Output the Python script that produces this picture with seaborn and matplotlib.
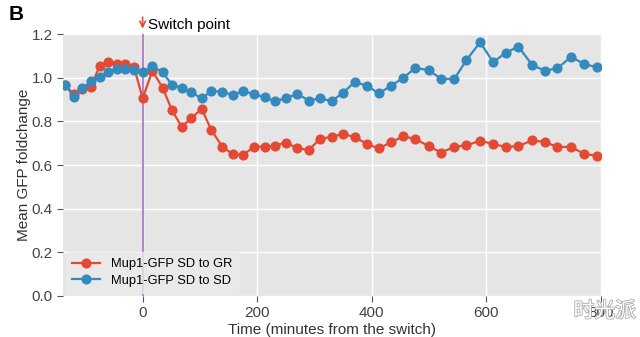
import matplotlib
matplotlib.use("Agg")
import matplotlib.pyplot as plt
import matplotlib.patheffects as pe
import seaborn as sns
import pandas as pd

# ---- data ----
time_min = [-135, -120, -105, -90, -75, -60, -45, -30, -15, 0,
            17, 35, 51, 68, 85, 103, 120, 139, 157, 175, 194, 213, 231, 250, 270, 290, 309,
            330, 350, 370, 392, 412, 434, 455, 476, 499, 521, 544, 565, 589, 612, 634, 656,
            680, 702, 724, 748, 771, 793]

sd_to_gr = [0.965, 0.925, 0.950, 0.958, 1.055, 1.070, 1.062, 1.061, 1.050, 0.905,
            1.031, 0.954, 0.852, 0.776, 0.814, 0.858, 0.760, 0.684, 0.650, 0.644, 0.684, 0.684,
            0.689, 0.703, 0.677, 0.669, 0.718,
            0.730, 0.742, 0.728, 0.696, 0.676, 0.705, 0.731, 0.719, 0.687, 0.657, 0.683, 0.690,
            0.711, 0.696, 0.683, 0.687, 0.713, 0.705, 0.683, 0.683, 0.650, 0.643]

sd_to_sd = [0.967, 0.913, 0.951, 0.986, 1.005, 1.025, 1.042, 1.042, 1.034, 1.026,
            1.054, 1.025, 0.968, 0.954, 0.934, 0.905, 0.939, 0.936, 0.921, 0.939, 0.925, 0.910,
            0.893, 0.905, 0.927, 0.895, 0.905,
            0.893, 0.931, 0.980, 0.963, 0.928, 0.963, 1.000, 1.044, 1.035, 0.995, 0.994, 1.080,
            1.162, 1.071, 1.115, 1.142, 1.058, 1.032, 1.043, 1.096, 1.061, 1.049]

series_names = ["Mup1-GFP SD to GR", "Mup1-GFP SD to SD"]
series_colors = ["#E24A33", "#348ABD"]
x_ticks = [0, 200, 400, 600, 800]
y_ticks = [0.0, 0.2, 0.4, 0.6, 0.8, 1.0, 1.2]

df = pd.DataFrame({
    "time": time_min * 2,
    "value": sd_to_gr + sd_to_sd,
    "series": [series_names[0]] * len(time_min) + [series_names[1]] * len(time_min),
})

plt.rcParams["font.family"] = ["Liberation Sans", "DejaVu Sans"]

fig = plt.figure(figsize=(6.4, 3.37), dpi=100)
ax = fig.add_axes([0.0984, 0.1217, 0.8406, 0.7773])
ax.set_facecolor("#E5E5E5")

sns.lineplot(data=df, x="time", y="value", hue="series", hue_order=series_names,
             palette=series_colors, marker="o", markersize=7.3, markeredgewidth=0,
             linewidth=1.6, ax=ax, legend=True, zorder=3)

ax.axvline(0, color="#A45EC4", linewidth=1.1, zorder=2)

ax.set_xlim(-139, 800)
ax.set_ylim(0, 1.2)
ax.set_xticks(x_ticks)
ax.set_yticks(y_ticks)
ax.set_yticklabels([f"{v:.1f}" for v in y_ticks])
ax.grid(True, color="white", linewidth=1.0, zorder=0)
ax.set_axisbelow(True)
for s in ax.spines.values():
    s.set_visible(False)
ax.tick_params(axis="both", colors="#555555", labelcolor="#444444", labelsize=11,
               length=4, width=0.8, direction="out")
ax.set_xlabel("Time (minutes from the switch)", fontsize=11, color="#333333", labelpad=2)
ax.set_ylabel("Mean GFP foldchange", fontsize=11, color="#333333", labelpad=0)

leg = ax.legend(loc="lower left", fontsize=9.3, frameon=True, handlelength=2.2,
                borderaxespad=0.2, labelspacing=0.35, handletextpad=0.8,
                borderpad=0.5)
leg.get_frame().set_facecolor("#EBEBEB")
leg.get_frame().set_edgecolor("#EBEBEB")
leg.set_title(None)

# switch point annotation
ax.annotate("", xy=(0, 1.212), xytext=(0, 1.29), annotation_clip=False,
            arrowprops=dict(arrowstyle="->", color="#E24A33", lw=1.2))
ax.text(10, 1.24, "Switch point", fontsize=11, color="black", va="center", ha="left",
        clip_on=False)

fig.text(0.014, 0.985, "B", fontsize=15, fontweight="bold", va="top", ha="left")
wm = fig.text(0.945, 0.077, "时光派", fontsize=15, color="white", va="center", ha="center",
              family=["Noto Sans CJK SC", "DejaVu Sans"])
wm.set_path_effects([pe.withStroke(linewidth=1.2, foreground="#AAAAAA")])

fig.savefig("out.png", dpi=100)
